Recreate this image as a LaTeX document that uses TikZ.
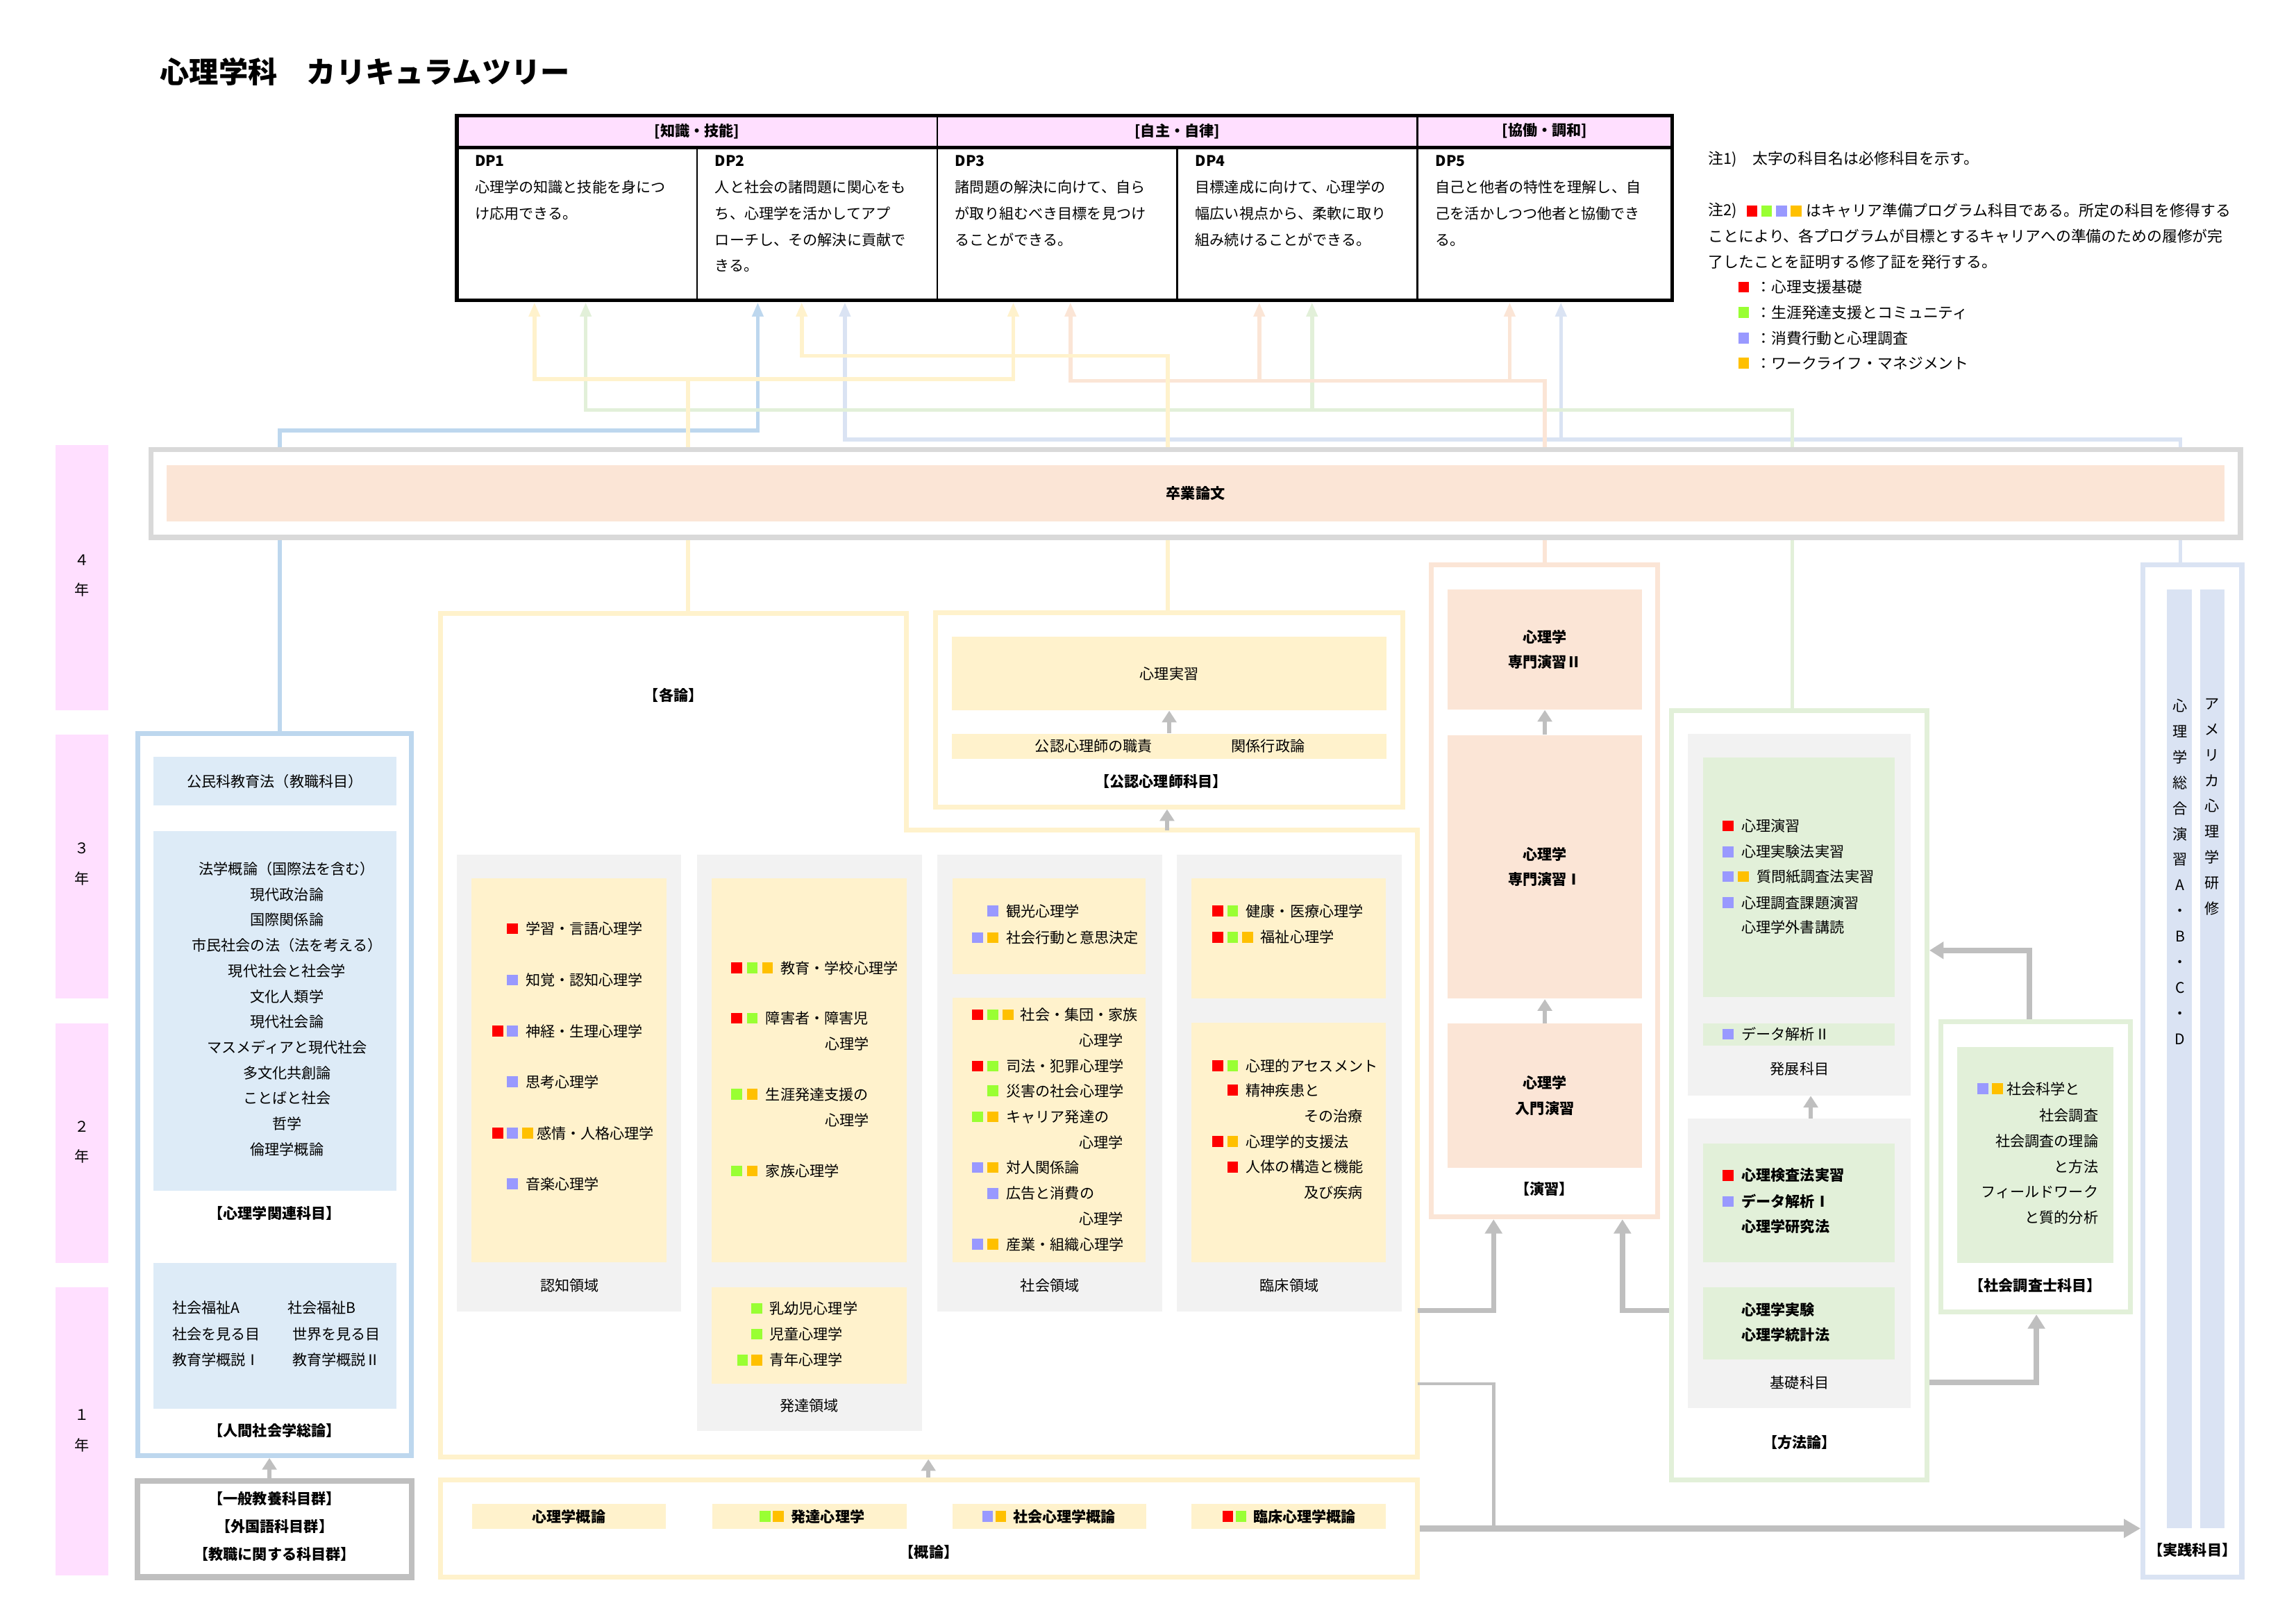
\documentclass[tikz,border=0pt]{standalone}
\usepackage{fontspec}
\setmainfont{Noto Sans CJK JP}
\usetikzlibrary{fit,arrows.meta}
\definecolor{pinkc}{HTML}{FFDFFF}
\definecolor{yel}{HTML}{FFF2CC}
\definecolor{sal}{HTML}{FBE5D6}
\definecolor{grn}{HTML}{E2F0D9}
\definecolor{blu}{HTML}{BDD7EE}
\definecolor{lblu}{HTML}{DDEBF7}
\definecolor{lav}{HTML}{DAE3F3}
\definecolor{gline}{HTML}{BFBFBF}
\definecolor{gbox}{HTML}{F2F2F2}
\definecolor{gbord}{HTML}{D9D9D9}
\definecolor{cR}{HTML}{FF0000}
\definecolor{cG}{HTML}{99FF33}
\definecolor{cB}{HTML}{9999FF}
\definecolor{cO}{HTML}{FFC000}
\newcommand\myfs{\fontsize{5.7pt}{9.9pt}\selectfont}
\newcommand\mynf{\fontsize{5.9pt}{10pt}\selectfont}
\newcommand\mkbox[5]{\node[#1,inner sep=0pt,fit={(#3)(#4)}] (#2) {#5};}
\newcommand\mkboxt[6]{\node[#1,inner sep=0pt,fit={(#3)(#4)}] (#2) {};\node[inner sep=0pt,#5] (#2t) at (#2.center) {#6};}
\newcommand\sqs[2]{\foreach \xx/\sqc in {#2}{\fill[fill=\sqc] (\xx-3.7,#1-3.7) rectangle (\xx+3.7,#1+3.7);}}
\newcommand\mytw[3]{\node[txt,anchor=west] (#1) at (#2) {#3};}
\newcommand\myte[3]{\node[txt,anchor=east] (#1) at (#2) {#3};}
\newcommand\mybw[3]{\node[btxt,anchor=west] (#1) at (#2) {#3};}
\begin{document}
\begin{tikzpicture}[x=0.02cm,y=-0.02cm,
  txt/.style={inner sep=0pt,font=\myfs},
  btxt/.style={inner sep=0pt,font=\myfs\bfseries},
  ntxt/.style={inner sep=0pt,font=\mynf,anchor=west},
  plin/.style={draw=#1,line width=1.5pt},
  parw/.style={draw=#1,line width=1.5pt,-{Triangle[width=4.2pt,length=5.5pt]}},
  garr/.style={draw=gline,line width=1.8pt,-{Triangle[width=5.5pt,length=4.5pt]}},
  garrT/.style={draw=gline,line width=2pt,-{Triangle[width=6.5pt,length=5.5pt]}},
  gbig/.style={draw=gline,line width=2.3pt,-{Triangle[width=7pt,length=6.5pt]}},
  gthin/.style={draw=gline,line width=1.3pt},
  bordr/.style={draw=#1,line width=1.9pt}
]
\fill[white] (0,0) rectangle (1568,1109);
\useasboundingbox (0,0) rectangle (1568,1109);

% ---------- title ----------
\node[anchor=west,inner sep=0pt,font=\fontsize{11.4pt}{13pt}\selectfont\bfseries] (title) at (109,49) {心理学科　カリキュラムツリー};

% ---------- DP table ----------
\mkboxt{draw=black,line width=0.7pt,fill=pinkc}{hd1}{312,79}{640,100}{font=\myfs\bfseries}{[知識・技能]}
\mkboxt{draw=black,line width=0.7pt,fill=pinkc}{hd2}{640,79}{968,100}{font=\myfs\bfseries}{[自主・自律]}
\mkboxt{draw=black,line width=0.7pt,fill=pinkc}{hd3}{968,79}{1142,100}{font=\myfs\bfseries}{[協働・調和]}
\mkbox{draw=black,line width=0.7pt}{dp1}{312,100}{476,205}{}
\mkbox{draw=black,line width=0.7pt}{dp2}{476,100}{640,205}{}
\mkbox{draw=black,line width=0.7pt}{dp3}{640,100}{804,205}{}
\mkbox{draw=black,line width=0.7pt}{dp4}{804,100}{968,205}{}
\mkbox{draw=black,line width=0.7pt}{dp5}{968,100}{1142,205}{}
\node[draw=black,line width=1.4pt,inner sep=0pt,fit={(312,79)(1142,205)}] (dptab) {};
\draw[line width=1.4pt] (hd1.south west) -- (hd3.south east);
\mybw{dl1}{324,110}{DP1}
\mybw{dl2}{488,110}{DP2}
\mybw{dl3}{652,110}{DP3}
\mybw{dl4}{816,110}{DP4}
\mybw{dl5}{980,110}{DP5}
\node[txt,anchor=north west,align=left,font=\fontsize{5.7pt}{10.2pt}\selectfont] (dt1) at (324,122.8) {心理学の知識と技能を身につ\\け応用できる。};
\node[txt,anchor=north west,align=left,font=\fontsize{5.7pt}{10.2pt}\selectfont] (dt2) at (488,122.8) {人と社会の諸問題に関心をも\\ち、心理学を活かしてアプ\\ローチし、その解決に貢献で\\きる。};
\node[txt,anchor=north west,align=left,font=\fontsize{5.7pt}{10.2pt}\selectfont] (dt3) at (652,122.8) {諸問題の解決に向けて、自ら\\が取り組むべき目標を見つけ\\ることができる。};
\node[txt,anchor=north west,align=left,font=\fontsize{5.7pt}{10.2pt}\selectfont] (dt4) at (816,122.8) {目標達成に向けて、心理学の\\幅広い視点から、柔軟に取り\\組み続けることができる。};
\node[txt,anchor=north west,align=left,font=\fontsize{5.7pt}{10.2pt}\selectfont] (dt5) at (980,122.8) {自己と他者の特性を理解し、自\\己を活かしつつ他者と協働でき\\る。};

% ---------- notes ----------
\node[ntxt] (nt1) at (1166.5,109) {注1)　太字の科目名は必修科目を示す。};
\node[ntxt] (nt2) at (1166.5,144) {注2)};
\sqs{144}{1196.5/cR,1206.5/cG,1216.5/cB,1226.5/cO}
\node[ntxt] (nt3) at (1233.3,144) {はキャリア準備プログラム科目である。所定の科目を修得する};
\node[ntxt] (nt4) at (1166.5,161.5) {ことにより、各プログラムが目標とするキャリアへの準備のための履修が完};
\node[ntxt] (nt5) at (1166.5,179) {了したことを証明する修了証を発行する。};
\sqs{196}{1190.8/cR}
\sqs{213.3}{1190.8/cG}
\sqs{230.8}{1190.8/cB}
\sqs{248}{1190.8/cO}
\node[ntxt] (lg1) at (1199,196) {：心理支援基礎};
\node[ntxt] (lg2) at (1199,213.3) {：生涯発達支援とコミュニティ};
\node[ntxt] (lg3) at (1199,230.8) {：消費行動と心理調査};
\node[ntxt] (lg4) at (1199,248) {：ワークライフ・マネジメント};

% ---------- year bars ----------
\mkbox{fill=pinkc}{yr4}{38,304}{74,485}{}
\mkbox{fill=pinkc}{yr3}{38,501.5}{74,682}{}
\mkbox{fill=pinkc}{yr2}{38,699}{74,862.5}{}
\mkbox{fill=pinkc}{yr1}{38,879}{74,1076}{}
\node[txt,align=center,font=\fontsize{5.7pt}{11.7pt}\selectfont] (yl4) at (56,393) {４\\年};
\node[txt,align=center,font=\fontsize{5.7pt}{11.7pt}\selectfont] (yl3) at (56,590) {３\\年};
\node[txt,align=center,font=\fontsize{5.7pt}{11.7pt}\selectfont] (yl2) at (56,780) {２\\年};
\node[txt,align=center,font=\fontsize{5.7pt}{11.7pt}\selectfont] (yl1) at (56,977) {１\\年};

% ---------- graduation thesis ----------
\mkbox{draw=gbord,line width=2pt}{sotsuout}{103,307}{1530,367}{}
\mkboxt{fill=sal}{sotsu}{114,317.5}{1519,356}{font=\myfs\bfseries}{卒業論文}

% ---------- left column ----------
\mkbox{bordr=blu}{ningen}{94,501}{281,994}{}
\mkboxt{fill=lblu}{koumin}{105,517}{270.5,550}{font=\myfs}{公民科教育法（教職科目）}
\mkbox{fill=lblu}{kanren}{105,567.5}{270.5,813}{}
\node[txt,align=center] (kanrenT) at (196,689) {法学概論（国際法を含む）\\現代政治論\\国際関係論\\市民社会の法（法を考える）\\現代社会と社会学\\文化人類学\\現代社会論\\マスメディアと現代社会\\多文化共創論\\ことばと社会\\哲学\\倫理学概論};
\node[btxt] (kanrenL) at (187.6,828.5) {【心理学関連科目】};
\mkbox{fill=lblu}{souron}{105,862.5}{270.5,962}{}
\mytw{so1}{117.3,893.2}{社会福祉A}
\mytw{so2}{117.3,911}{社会を見る目}
\mytw{so3}{117.3,928.4}{教育学概説Ⅰ}
\mytw{so4}{196,893.2}{社会福祉B}
\mytw{so5}{199.4,911}{世界を見る目}
\mytw{so6}{199.4,928.4}{教育学概説Ⅱ}
\node[btxt] (souronL) at (187.6,977) {【人間社会学総論】};
\mkbox{draw=gline,line width=2.2pt}{ippan}{94,1011.5}{281,1077}{}
\node[btxt,align=center,font=\fontsize{5.7pt}{10.8pt}\selectfont\bfseries] (ippanT) at (187.6,1042.6) {【一般教養科目群】\\【外国語科目群】\\【教職に関する科目群】};
\coordinate (xg) at (184,0);
\draw[garr] (ippan.north -| xg) -- (ningen.south -| xg);

% ---------- kakuron ----------
\draw[bordr=yel] (301,419) -- (619,419) -- (619,567) -- (968,567) -- (968,995) -- (301,995) -- cycle;
\coordinate (kakuTop) at (470,419);
\coordinate (kakuNotch) at (797,567);
\coordinate (kakuBot) at (634,996.5);
\coordinate (kakuR1) at (968,895);
\coordinate (kakuR2) at (968,945);
\node[btxt] (kakuL) at (460,475) {【各論】};

\mkbox{fill=gbox}{ninchi}{312,583.5}{465,895.5}{}
\mkbox{fill=yel}{ninchiY}{322,600}{455,862}{}
\node[txt] (ninchiL) at (389,878) {認知領域};
\mkbox{fill=gbox}{hattatsu}{476,583.5}{629.5,977}{}
\mkbox{fill=yel}{hattatsuY1}{486,600}{619,862}{}
\mkbox{fill=yel}{hattatsuY2}{486,879}{619,945}{}
\node[txt] (hattatsuL) at (552.5,960) {発達領域};
\mkbox{fill=gbox}{shakaiD}{640,583.5}{793.5,895.5}{}
\mkbox{fill=yel}{shakaiY1}{650.5,600}{782.5,665}{}
\mkbox{fill=yel}{shakaiY2}{650.5,681.5}{782.5,862}{}
\node[txt] (shakaiL) at (717,878) {社会領域};
\mkbox{fill=gbox}{rinsho}{803.5,583.5}{957.5,895.5}{}
\mkbox{fill=yel}{rinshoY1}{813.5,600}{946.5,682}{}
\mkbox{fill=yel}{rinshoY2}{813.5,698.5}{946.5,862}{}
\node[txt] (rinshoL) at (880.5,878) {臨床領域};

% ninchi items
\sqs{634.2}{350/cR}
\mytw{ni1}{358.6,634.2}{学習・言語心理学}
\sqs{669.3}{350/cB}
\mytw{ni2}{358.6,669.3}{知覚・認知心理学}
\sqs{704.1}{340/cR,350/cB}
\mytw{ni3}{358.6,704.1}{神経・生理心理学}
\sqs{738.7}{350/cB}
\mytw{ni4}{358.6,738.7}{思考心理学}
\sqs{773.8}{340/cR,350/cB,360.4/cO}
\mytw{ni5}{366.2,773.8}{感情・人格心理学}
\sqs{808.5}{350/cB}
\mytw{ni6}{358.6,808.5}{音楽心理学}

% hattatsu items
\sqs{661}{503.2/cR,513.7/cG,524.1/cO}
\mytw{ha1}{532.8,661}{教育・学校心理学}
\sqs{695.4}{503.2/cR,513.7/cG}
\mytw{ha2}{522.6,695.4}{障害者・障害児}
\myte{ha2b}{593.7,712.7}{心理学}
\sqs{747.3}{503.2/cG,513.7/cO}
\mytw{ha3}{522.6,747.3}{生涯発達支援の}
\myte{ha3b}{593.7,765}{心理学}
\sqs{799.6}{503.2/cG,513.7/cO}
\mytw{ha4}{522.6,799.6}{家族心理学}
\sqs{893.6}{516.7/cG}
\mytw{ha5}{525.2,893.6}{乳幼児心理学}
\sqs{911}{516.7/cG}
\mytw{ha6}{525.2,911}{児童心理学}
\sqs{928.7}{507.1/cG,516.7/cO}
\mytw{ha7}{525.2,928.7}{青年心理学}

% shakai items
\sqs{622.2}{678/cB}
\mytw{sh1}{686.9,622.2}{観光心理学}
\sqs{640.3}{667.7/cB,678/cO}
\mytw{sh2}{686.9,640.3}{社会行動と意思決定}
\sqs{693}{667.7/cR,678/cG,688.4/cO}
\mytw{sh3}{696.6,693}{社会・集団・家族}
\myte{sh3b}{767.4,710.5}{心理学}
\sqs{728}{667.7/cR,678/cG}
\mytw{sh4}{686.9,728}{司法・犯罪心理学}
\sqs{745}{678/cG}
\mytw{sh5}{686.9,745}{災害の社会心理学}
\sqs{762.6}{667.7/cG,678/cO}
\mytw{sh6}{686.9,762.6}{キャリア発達の}
\myte{sh6b}{767.4,780}{心理学}
\sqs{797.2}{667.7/cB,678/cO}
\mytw{sh7}{686.9,797.2}{対人関係論}
\sqs{815}{678/cB}
\mytw{sh8}{686.9,815}{広告と消費の}
\myte{sh8b}{767.4,832.3}{心理学}
\sqs{849.7}{667.7/cB,678/cO}
\mytw{sh9}{686.9,849.7}{産業・組織心理学}

% rinsho items
\sqs{622.2}{831.7/cR,841.9/cG}
\mytw{ri1}{850.6,622.2}{健康・医療心理学}
\sqs{640}{831.7/cR,841.9/cG,852.1/cO}
\mytw{ri2}{860.6,640}{福祉心理学}
\sqs{727.8}{831.7/cR,841.9/cG}
\mytw{ri3}{850.6,727.8}{心理的アセスメント}
\sqs{744.5}{841.9/cR}
\mytw{ri4}{850.6,744.5}{精神疾患と}
\myte{ri4b}{931,762.4}{その治療}
\sqs{779.6}{831.7/cR,841.9/cO}
\mytw{ri5}{850.6,779.6}{心理学的支援法}
\sqs{797}{841.9/cR}
\mytw{ri6}{850.6,797}{人体の構造と機能}
\myte{ri6b}{931,814.3}{及び疾病}

% ---------- kounin ----------
\mkbox{bordr=yel}{kounin}{639,418.5}{958,551}{}
\mkboxt{fill=yel}{jisshu}{650,435}{947,485}{font=\myfs}{心理実習}
\mkbox{fill=yel}{shokuseki}{650,501}{947,518}{}
\node[txt] (sk1) at (747,509.5) {公認心理師の職責};
\node[txt] (sk2) at (866,509.5) {関係行政論};
\node[btxt] (kouninL) at (793,533.5) {【公認心理師科目】};
\draw[garr] (shokuseki.north) -- (jisshu.south);
\draw[garr] (kakuNotch) -- (kounin.south -| kakuNotch);

% ---------- gairon ----------
\mkbox{bordr=yel}{gairon}{301,1010.5}{968,1077}{}
\mkboxt{fill=yel}{ga1}{322.5,1027}{454.5,1044}{font=\myfs\bfseries}{心理学概論}
\mkbox{fill=yel}{ga2}{486.5,1027}{619,1044}{}
\mkbox{fill=yel}{ga3}{650.5,1027}{783,1044}{}
\mkbox{fill=yel}{ga4}{813.5,1027}{946.5,1044}{}
\sqs{1035.5}{522.5/cG,531.5/cO}
\mybw{ga2t}{540,1035.5}{発達心理学}
\sqs{1035.5}{674.5/cB,683.5/cO}
\mybw{ga3t}{691.5,1035.5}{社会心理学概論}
\sqs{1035.5}{838.5/cR,847.5/cG}
\mybw{ga4t}{855.5,1035.5}{臨床心理学概論}
\node[btxt] (gaironL) at (634.4,1059.8) {【概論】};
\draw[garr] (gairon.north -| kakuBot) -- (kakuBot);

% ---------- enshu ----------
\mkbox{bordr=sal}{enshu}{977.5,385.5}{1132,831}{}
\mkboxt{fill=sal}{en2}{988.5,402.5}{1121.5,484.5}{font=\myfs\bfseries,align=center}{心理学\\専門演習Ⅱ}
\mkboxt{fill=sal}{en1}{988.5,502}{1121.5,682}{font=\myfs\bfseries,align=center}{心理学\\専門演習Ⅰ}
\mkboxt{fill=sal}{en0}{988.5,699}{1121.5,797.5}{font=\myfs\bfseries,align=center}{心理学\\入門演習}
\node[btxt] (enshuL) at (1054.7,812) {【演習】};
\draw[garr] (en1.north) -- (en2.south);
\draw[garr] (en0.north) -- (en1.south);

% ---------- houhouron ----------
\mkbox{bordr=grn}{houhou}{1141.5,485.5}{1316,1010.5}{}
\mkbox{fill=gbox}{hatten}{1152.5,501}{1305,748}{}
\mkbox{fill=grn}{hattenG1}{1163,517.5}{1294,681}{}
\mkbox{fill=grn}{hattenG2}{1163,699}{1294,714}{}
\sqs{564}{1180.2/cR}
\mytw{mh1}{1189,564}{心理演習}
\sqs{581.7}{1180.2/cB}
\mytw{mh2}{1189,581.7}{心理実験法実習}
\sqs{598.6}{1180.2/cB,1190.5/cO}
\mytw{mh3}{1199.4,598.6}{質問紙調査法実習}
\sqs{616.4}{1180.2/cB}
\mytw{mh4}{1189,616.4}{心理調査課題演習}
\mytw{mh5}{1189,633.3}{心理学外書講読}
\sqs{706.2}{1180.2/cB}
\mytw{mh6}{1189,706.2}{データ解析Ⅱ}
\node[txt] (hattenL) at (1229,730) {発展科目};
\mkbox{fill=gbox}{kiso}{1152.5,764}{1305,961.5}{}
\mkbox{fill=grn}{kisoG1}{1163,781}{1294,862}{}
\mkbox{fill=grn}{kisoG2}{1163,879}{1294,928.5}{}
\sqs{802.7}{1180.2/cR}
\mybw{mk1}{1189,802.7}{心理検査法実習}
\sqs{820.5}{1180.2/cB}
\mybw{mk2}{1189,820.5}{データ解析Ⅰ}
\mybw{mk3}{1189,837.8}{心理学研究法}
\mybw{mk4}{1189,894.6}{心理学実験}
\mybw{mk5}{1189,911.5}{心理学統計法}
\node[txt] (kisoL) at (1229,944) {基礎科目};
\node[btxt] (houhouL) at (1229,985) {【方法論】};
\coordinate (hx) at (1236.6,0);
\draw[garr] (kiso.north -| hx) -- (hatten.south -| hx);

% ---------- shakai chousashi ----------
\mkbox{bordr=grn}{shakai}{1325.5,697.5}{1455,896}{}
\mkbox{fill=grn}{shakaiG}{1336.5,715}{1443.5,862.5}{}
\sqs{743.5}{1354/cB,1364/cO}
\mytw{sq1}{1370,743.5}{社会科学と}
\myte{sq2}{1433.3,761.7}{社会調査}
\myte{sq3}{1433.3,779.4}{社会調査の理論}
\myte{sq4}{1433.3,796.6}{と方法}
\myte{sq5}{1433.3,813.9}{フィールドワーク}
\myte{sq6}{1433.3,831.5}{と質的分析}
\node[btxt] (shakaiLb) at (1390,878) {【社会調査士科目】};

% ---------- jissen ----------
\mkbox{bordr=lav}{jissen}{1463.5,385.5}{1531,1077}{}
\mkbox{fill=lav}{jb1}{1480,402.5}{1497,1043.5}{}
\mkbox{fill=lav}{jb2}{1502.5,402.5}{1519,1043.5}{}
\node[txt,align=center,font=\fontsize{5.7pt}{9.95pt}\selectfont] (jt1) at (1488.8,595.3) {心\\理\\学\\総\\合\\演\\習\\A\\・\\B\\・\\C\\・\\D};
\node[txt,align=center,font=\fontsize{5.7pt}{9.95pt}\selectfont] (jt2) at (1510.7,551) {ア\\メ\\リ\\カ\\心\\理\\学\\研\\修};
\node[btxt] (jissenL) at (1497.3,1058.3) {【実践科目】};

% ---------- gray connectors ----------
\coordinate (e1) at (1020,895);
\coordinate (e2) at (1108,895);
\draw[garrT] (kakuR1) -| (enshu.south -| e1);
\draw[garrT] (houhou.west |- e2) -| (enshu.south -| e2);
\coordinate (ar1) at (1386,649);
\coordinate (ar2) at (1390.7,944);
\draw[garrT] (shakai.north -| ar1) |- (houhou.east |- ar1);
\draw[garrT] (houhou.east |- ar2) -| (shakai.south -| ar2);
\draw[gthin] (kakuR2) -| (gairon.east -| e1);
\draw[gbig] (gairon.east) -- (gairon.east -| jissen.west);

% ---------- pastel connectors to DP ----------
\coordinate (d1a) at (365,206.5);
\coordinate (d1b) at (400,206.5);
\coordinate (d2a) at (517.5,206.5);
\coordinate (d2b) at (547.5,206.5);
\coordinate (d2c) at (577,206.5);
\coordinate (d3a) at (692,206.5);
\coordinate (d3b) at (731,206.5);
\coordinate (d4a) at (860,206.5);
\coordinate (d4b) at (896,206.5);
\coordinate (d5a) at (1031,206.5);
\coordinate (d5b) at (1066,206.5);
\coordinate (jY1) at (470,259);
\coordinate (jY2) at (797.5,243);
\coordinate (jS) at (1055,260);
\coordinate (jG) at (1224,280);
\coordinate (jB) at (191,294);
\coordinate (jL) at (1489,300);

\draw[parw=lav] (sotsuout.north -| jL) -- (jL) -| (d2c);
\draw[parw=lav] (jL) -| (d5b);
\draw[parw=blu] (sotsuout.north -| jB) -- (jB) -| (d2a);
\draw[parw=grn] (sotsuout.north -| jG) -- (jG) -| (d1b);
\draw[parw=grn] (jG) -| (d4b);
\draw[parw=sal] (sotsuout.north -| jS) -- (jS) -| (d3b);
\draw[parw=sal] (jS) -| (d4a);
\draw[parw=sal] (jS) -| (d5a);
\draw[parw=yel] (sotsuout.north -| jY1) -- (jY1) -| (d1a);
\draw[parw=yel] (jY1) -| (d3a);
\draw[parw=yel] (sotsuout.north -| jY2) -- (jY2) -| (d2b);

% ---------- pastel connectors below thesis ----------
\draw[plin=blu] (sotsuout.south -| jB) -- (ningen.north -| jB);
\draw[plin=yel] (sotsuout.south -| jY1) -- (kakuTop);
\draw[plin=yel] (sotsuout.south -| jY2) -- (kounin.north -| jY2);
\draw[plin=sal] (sotsuout.south -| jS) -- (enshu.north -| jS);
\draw[plin=grn] (sotsuout.south -| jG) -- (houhou.north -| jG);
\draw[plin=lav] (sotsuout.south -| jL) -- (jissen.north -| jL);

\end{tikzpicture}
\end{document}
